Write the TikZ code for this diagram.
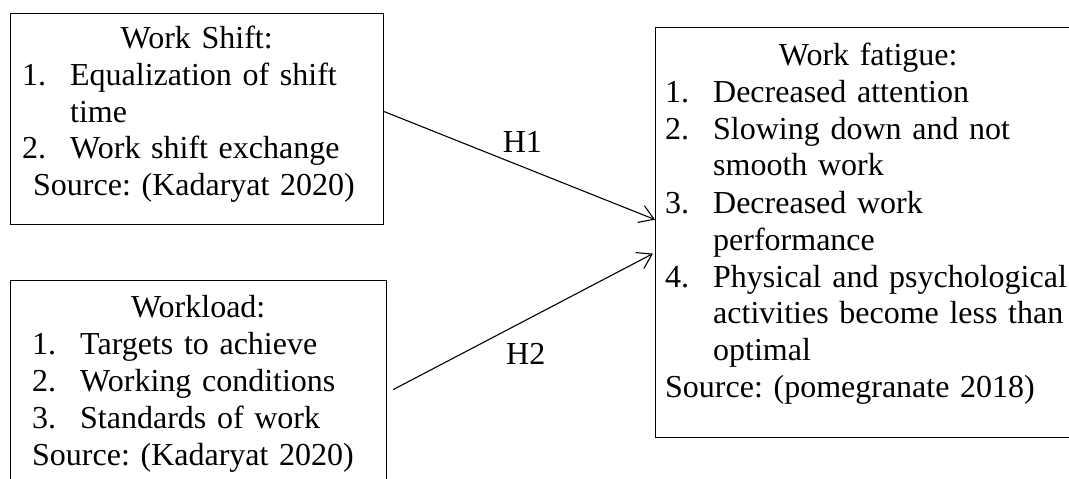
\documentclass[tikz,border=0pt]{standalone}
\usepackage{fontspec}
\setmainfont{Liberation Serif}
\usetikzlibrary{arrows.meta}
\frenchspacing
\newcommand{\li}[1]{\makebox[48pt][l]{#1}}
\newcommand{\cont}{\hspace*{48pt}}
\tikzset{
  box/.style={draw, line width=1.2pt, rectangle, anchor=north west, inner sep=0pt},
  txt/.style={anchor=base west, align=left, inner sep=0pt, font=\fontsize{32}{37}\selectfont},
  link/.style={line width=1.1pt, -{Straight Barb[length=14pt,width=18pt,line width=1.1pt]}},
  lbl/.style={font=\fontsize{32}{37}\selectfont, inner sep=0pt, anchor=base}
}
\begin{document}
\begin{tikzpicture}[x=1pt,y=-1pt]
\useasboundingbox (0,0) rectangle (1069,479);
\clip (0,0) rectangle (1069,479);

% boxes
\node[box, minimum width=373pt, minimum height=211pt] (shift) at (10,13) {};
\node[box, minimum width=376pt, minimum height=230pt] (load) at (10,280) {};
\node[box, minimum width=430pt, minimum height=410pt] (fatigue) at (655,27) {};

% texts
\node[txt, text width=349pt] (shifttxt) at (22,48) {\makebox[\linewidth]{Work Shift:}\\
  \li{1.}Equalization of shift\\
  \cont time\\
  \li{2.}Work shift exchange\\
  \hspace*{11pt}Source: (Kadaryat 2020)};
\node[txt, text width=332pt] (loadtxt) at (32,317) {\makebox[\linewidth]{Workload:}\\
  \li{1.}Targets to achieve\\
  \li{2.}Working conditions\\
  \li{3.}Standards of work\\
  Source: (Kadaryat 2020)};
\node[txt, text width=406pt] (fatiguetxt) at (665,65) {\makebox[\linewidth]{Work fatigue:}\\
  \li{1.}Decreased attention\\
  \li{2.}Slowing down and not\\
  \cont smooth work\\
  \li{3.}Decreased work\\
  \cont performance\\
  \li{4.}Physical and psychological\\
  \cont activities become less than\\
  \cont optimal\\
  Source: (pomegranate 2018)};

% hypotheses
\draw[link] ([yshift=7.5pt]shift.east) -- node[lbl, pos=0.51, yshift=14pt] (h1) {H1} ([yshift=13pt]fatigue.west);
\draw[link] ([xshift=6pt,yshift=6pt]load.east) -- node[lbl, pos=0.51, yshift=-44pt] (h2) {H2} ([xshift=-2pt,yshift=-21pt]fatigue.west);
\end{tikzpicture}
\end{document}
